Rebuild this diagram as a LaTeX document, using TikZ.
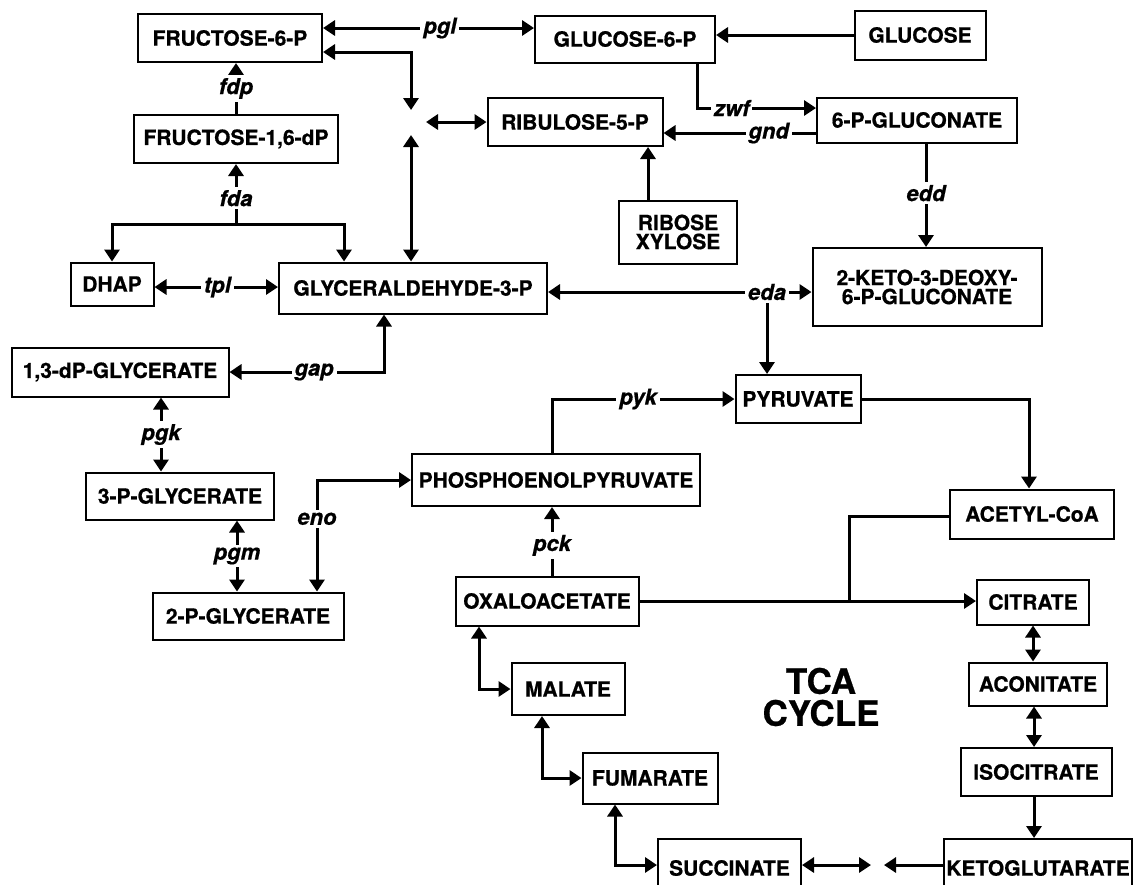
\documentclass[tikz,border=0pt]{standalone}
\usepackage{fontspec}
\setmainfont{TeX Gyre Heros}[BoldFeatures={FakeBold=0.7},BoldItalicFeatures={FakeBold=0.7}]
\usetikzlibrary{arrows.meta,calc}
\begin{document}
\begin{tikzpicture}[x=1pt,y=-1pt,
  tri/.tip={Triangle[length=12pt,width=15pt]},
  box/.style={draw,line width=2pt,fill=white,inner sep=0pt,align=center,font=\fontsize{21}{19}\selectfont\bfseries},
  ln/.style={line width=3pt},
  one/.style={ln,-tri},
  two/.style={ln,tri-tri},
  lab/.style={fill=white,inner sep=3pt,font=\fontsize{22}{24}\selectfont\bfseries\itshape}]
\useasboundingbox (0,0) rectangle (1135,884);
\clip (0,0) rectangle (1135,884);
\fill[white] (0,0) rectangle (1135,884);
% boxes
\node[box,minimum width=184pt,minimum height=48pt] (f6p) at (230,38) {FRUCTOSE-6-P};
\node[box,minimum width=180pt,minimum height=47pt] (g6p) at (625,39) {GLUCOSE-6-P};
\node[box,minimum width=131pt,minimum height=49pt] (glc) at (920,35) {GLUCOSE};
\node[box,minimum width=175pt,minimum height=48pt] (r5p) at (575,122) {RIBULOSE-5-P};
\node[box,minimum width=200pt,minimum height=45pt] (pg6) at (917,120) {6-P-GLUCONATE};
\node[box,minimum width=118pt,minimum height=63pt] (rx) at (678,232) {RIBOSE\\XYLOSE};
\node[box,minimum width=229pt,minimum height=78pt] (kdpg) at (927,287) {2-KETO-3-DEOXY-\\6-P-GLUCONATE};
\node[box,minimum width=204pt,minimum height=48pt] (f16) at (236,139) {FRUCTOSE-1,6-dP};
\node[box,minimum width=83pt,minimum height=43pt] (dhap) at (112,284) {DHAP};
\node[box,minimum width=268pt,minimum height=51pt] (g3p) at (413,288) {GLYCERALDEHYDE-3-P};
\node[box,minimum width=217pt,minimum height=49pt] (dpg) at (120,372) {1,3-dP-GLYCERATE};
\node[box,minimum width=188pt,minimum height=47pt] (pga3) at (180,496) {3-P-GLYCERATE};
\node[box,minimum width=191pt,minimum height=47pt] (pga2) at (248,616) {2-P-GLYCERATE};
\node[box,minimum width=288pt,minimum height=52pt] (pep) at (556,480) {PHOSPHOENOLPYRUVATE};
\node[box,minimum width=125pt,minimum height=48pt] (pyr) at (798,399) {PYRUVATE};
\node[box,minimum width=164pt,minimum height=49pt] (acoa) at (1032,514) {ACETYL-CoA};
\node[box,minimum width=183pt,minimum height=49pt] (oaa) at (547,601) {OXALOACETATE};
\node[box,minimum width=112pt,minimum height=45pt] (cit) at (1033,602) {CITRATE};
\node[box,minimum width=138pt,minimum height=43pt] (acn) at (1038,684) {ACONITATE};
\node[box,minimum width=151pt,minimum height=48pt] (icit) at (1036,772) {ISOCITRATE};
\node[box,minimum width=188pt,minimum height=58pt] (akg) at (1038,868) {KETOGLUTARATE};
\node[box,minimum width=143pt,minimum height=58pt] (suc) at (729.5,868) {SUCCINATE};
\node[box,minimum width=113pt,minimum height=52pt] (mal) at (568,689) {MALATE};
\node[box,minimum width=135pt,minimum height=51pt] (fum) at (650,778) {FUMARATE};
\node[font=\fontsize{35}{32}\selectfont\bfseries,align=center] (tca) at (821,697) {TCA\\CYCLE};
% helper coordinates
\coordinate (pglA) at ([yshift=10pt]f6p.east);
\coordinate (fA) at ([yshift=-14pt]f6p.east);
\coordinate (jT) at (411,110);
\coordinate (jB) at (411,135);
\coordinate (jL) at (426,122);
\coordinate (zA) at ([xshift=72pt]g6p.south);
\coordinate (zB) at ([yshift=12pt]pg6.west);
\coordinate (gA) at ([yshift=-13pt]pg6.west);
\coordinate (rA) at ([xshift=-30pt]rx.north);
\coordinate (eA) at ([xshift=9pt]pg6.south);
\coordinate (edA) at ([yshift=-4pt]g3p.east);
\coordinate (pyrT) at ([xshift=-31pt]pyr.north);
\coordinate (fdJ) at ([yshift=-60pt]f16.south);
\coordinate (gT) at ([xshift=-69pt]g3p.north);
\coordinate (tA) at ([yshift=-3pt]dhap.east);
\coordinate (gpA) at ([xshift=-29pt]g3p.south);
\coordinate (pkA) at ([xshift=41pt]dpg.south);
\coordinate (pmA) at ([xshift=57pt]pga3.south);
\coordinate (enA) at ([xshift=69pt]pga2.north);
\coordinate (pcA) at ([xshift=5pt]oaa.north);
\coordinate (pyA) at ([xshift=-4pt]pep.north);
\coordinate (acT) at ([xshift=-3pt]acoa.north);
\coordinate (acW) at ([yshift=-2pt]acoa.west);
\coordinate (acX) at ([xshift=-100pt]acW);
\coordinate (anB) at ([xshift=-4pt]acn.south);
\coordinate (icB) at ([xshift=-2pt]icit.south);
\coordinate (akW) at ([yshift=3pt]akg.west);
\coordinate (kgT) at ([xshift=-59pt]akW);
\coordinate (suE) at ([yshift=3pt]suc.east);
\coordinate (scT) at ([xshift=69pt]suE);
\coordinate (suW) at ([yshift=3pt]suc.west);
\coordinate (oaB) at ([xshift=-68pt]oaa.south);
\coordinate (mlB) at ([xshift=-26pt]mal.south);
\coordinate (fmB) at ([xshift=-35pt]fum.south);
% connectors
\draw[two] (pglA) -- node[lab,pos=0.554] (pgl) {pgl} (pglA -| g6p.west);
\draw[two] (fA) -| (jT);
\draw[two] (jB) -- (jB |- g3p.north);
\draw[two] (jL) -- (jL -| r5p.west);
\draw[one] (glc.west) -- (glc.west -| g6p.east);
\draw[one] (zA) |- node[lab,pos=0.646] (zwf) {zwf} (zB);
\draw[one] (gA) -- node[lab,pos=0.31] (gnd) {gnd} (gA -| r5p.east);
\draw[one] (rA) -- (rA |- r5p.south);
\draw[one] (eA) -- node[lab,pos=0.48] (edd) {edd} (eA |- kdpg.north);
\draw[two] (edA) -- (edA -| kdpg.west);
\draw[one] (pyrT |- edA) -- (pyrT);
\node[lab] (eda) at (pyrT |- edA) {eda};
\draw[one] (f16.north) -- node[lab] (fdp) {fdp} (f16.north |- f6p.south);
\draw[one] (fdJ) -- node[lab,pos=0.43] (fda) {fda} (f16.south);
\draw[one] (fdJ) -| (dhap.north);
\draw[one] (fdJ) -| (gT);
\draw[two] (tA) -- node[lab,pos=0.51] (tpl) {tpl} (tA -| g3p.west);
\draw[two] (gpA) |- node[lab,pos=0.726] (gap) {gap} (dpg.east);
\draw[two] (pkA) -- node[lab] (pgk) {pgk} (pkA |- pga3.north);
\draw[two] (pmA) -- node[lab] (pgm) {pgm} (pmA |- pga2.north);
\draw[two] (enA) |- node[lab,pos=0.326] (eno) {eno} (pep.west);
\draw[one] (pcA) -- node[lab,pos=0.44] (pck) {pck} (pcA |- pep.south);
\draw[one] (pyA) |- node[lab,pos=0.736] (pyk) {pyk} (pyr.west);
\draw[one] (pyr.east) -| (acT);
\draw[ln] (acW) -- (acX) -- (acX |- oaa.east);
\draw[one] (oaa.east) -- (oaa.east -| cit.west);
\draw[two] (cit.south) -- (cit.south |- acn.north);
\draw[two] (anB) -- (anB |- icit.north);
\draw[one] (icB) -- (icB |- akg.north);
\draw[one] (akW) -- (kgT);
\draw[two] (suE) -- (scT);
\draw[two] (oaB) |- (mal.west);
\draw[two] (mlB) |- (fum.west);
\draw[two] (fmB) |- (suW);
\end{tikzpicture}
\end{document}
